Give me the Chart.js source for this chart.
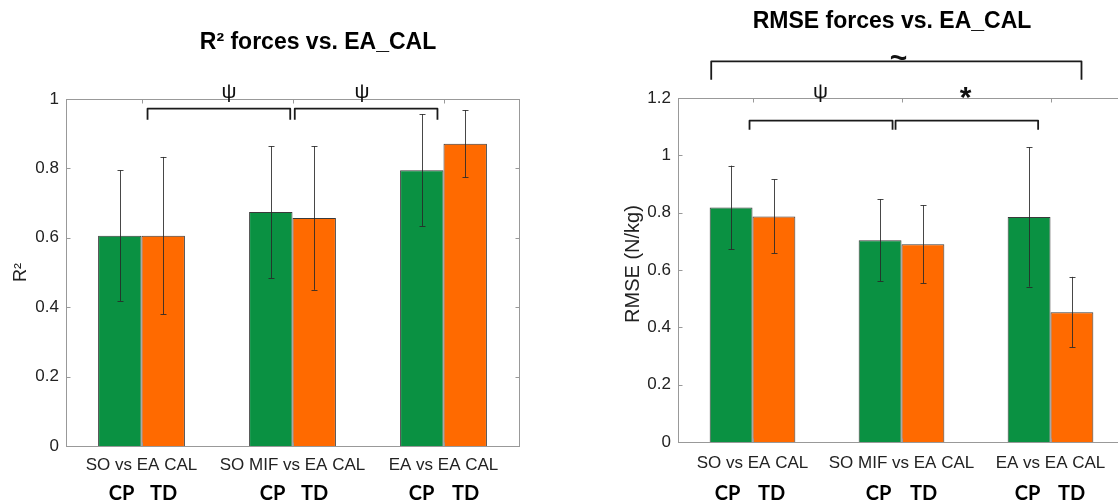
<!DOCTYPE html>
<html>
<head>
<meta charset="utf-8">
<script src="https://cdn.jsdelivr.net/npm/chart.js@4.4.1/dist/chart.umd.min.js"></script>
<style>
html, body { margin: 0; padding: 0; background: #fff; overflow: hidden; }
#wrap { position: relative; width: 1118px; height: 502px; overflow: hidden; }
#c1 { position: absolute; left: 0; top: 0; }
#c2 { position: absolute; left: 560px; top: 0; }
</style>
</head>
<body>
<div id="wrap">
  <canvas id="c1" width="560" height="502"></canvas>
  <canvas id="c2" width="600" height="502"></canvas>
</div>
<script>
// Categorias y grupos
var categorias = ['SO vs EA CAL', 'SO MIF vs EA CAL', 'EA vs EA CAL'];
var grupos = ['CP', 'TD'];

// R2 (media y desviacion)
var r2CP = [0.606, 0.674, 0.795];
var r2TD = [0.606, 0.657, 0.871];
var r2CPsd = [0.188, 0.190, 0.161];
var r2TDsd = [0.227, 0.207, 0.097];

// RMSE (N/kg)
var rmseCP = [0.818, 0.704, 0.785];
var rmseTD = [0.787, 0.690, 0.453];
var rmseCPsd = [0.146, 0.143, 0.243];
var rmseTDsd = [0.129, 0.136, 0.123];

// Ejes Y
var r2Max = 1, rmseMax = 1.2, pasoY = 0.2;

var verde = 'rgb(10,145,66)';
var naranja = 'rgb(255,106,0)';
var fuente = '"Liberation Sans", Arial, sans-serif';

// Plugin: caja, marcas, barras de error, corchetes y textos
var extras = {
  id: 'extras',
  afterDatasetsDraw: function (chart) {
    var o = chart.options.plugins.extras;
    var ctx = chart.ctx, a = chart.chartArea;
    var x = chart.scales.x, y = chart.scales.y;
    ctx.save();

    // barras de error
    ctx.strokeStyle = 'rgba(40,40,40,0.85)';
    ctx.lineWidth = 1;
    chart.data.datasets.forEach(function (ds, di) {
      var meta = chart.getDatasetMeta(di);
      meta.data.forEach(function (bar, i) {
        var v = ds.data[i], e = o.errores[di][i];
        var y1 = y.getPixelForValue(v + e), y2 = y.getPixelForValue(v - e);
        var bx = Math.round(bar.x) + 0.5;
        ctx.beginPath();
        ctx.moveTo(bx, y1); ctx.lineTo(bx, y2);
        ctx.moveTo(bx - 3, Math.round(y1) + 0.5); ctx.lineTo(bx + 3, Math.round(y1) + 0.5);
        ctx.moveTo(bx - 3, Math.round(y2) + 0.5); ctx.lineTo(bx + 3, Math.round(y2) + 0.5);
        ctx.stroke();
      });
    });

    // caja y marcas hacia dentro
    ctx.strokeStyle = '#999';
    ctx.lineWidth = 1;
    var L = Math.round(a.left) + 0.5, R = Math.round(a.right) + 0.5;
    var T = Math.round(a.top) + 0.5, B = Math.round(a.bottom) + 0.5;
    ctx.strokeRect(L, T, R - L, B - T);
    ctx.beginPath();
    y.ticks.forEach(function (t) {
      var py = Math.round(y.getPixelForValue(t.value)) + 0.5;
      ctx.moveTo(L, py); ctx.lineTo(L + 4, py);
      ctx.moveTo(R, py); ctx.lineTo(R - 4, py);
    });
    categorias.forEach(function (c, i) {
      var px = Math.round(x.getPixelForValue(i)) + 0.5;
      ctx.moveTo(px, T); ctx.lineTo(px, T + 4);
      ctx.moveTo(px, B); ctx.lineTo(px, B - 4);
    });
    ctx.stroke();

    // corchetes de significacion
    ctx.strokeStyle = '#1a1a1a';
    ctx.lineWidth = 1.8;
    ctx.lineJoin = 'round';
    ctx.fillStyle = '#111';
    ctx.textAlign = 'center';
    ctx.textBaseline = 'middle';
    o.corchetes.forEach(function (c) {
      var x1 = x.getPixelForValue(c.x1), x2 = x.getPixelForValue(c.x2);
      var yt = y.getPixelForValue(c.yTop), yb = y.getPixelForValue(c.yBot);
      ctx.beginPath();
      ctx.moveTo(x1, yb); ctx.lineTo(x1, yt); ctx.lineTo(x2, yt); ctx.lineTo(x2, yb);
      ctx.stroke();
    });
    o.simbolos.forEach(function (s) {
      ctx.font = s.font;
      ctx.fillText(s.txt, x.getPixelForValue(s.x), y.getPixelForValue(s.y));
    });

    // titulo
    ctx.font = 'bold 23px ' + fuente;
    ctx.fillStyle = '#000';
    ctx.fillText(o.titulo, o.tituloX, o.tituloY);

    // titulo eje Y
    ctx.save();
    ctx.translate(o.ejeX, (a.top + a.bottom) / 2 - o.ejeDy);
    ctx.rotate(-Math.PI / 2);
    ctx.font = o.ejeFont + 'px ' + fuente;
    ctx.fillStyle = '#222';
    ctx.fillText(o.ejeY, 0, 0);
    ctx.restore();

    // etiquetas CP / TD
    ctx.font = 'bold 20px Lato, "Open Sans", sans-serif';
    ctx.fillStyle = '#000';
    categorias.forEach(function (c, i) {
      var px = x.getPixelForValue(i);
      ctx.fillText(grupos[0], px + o.dxCP[i], 494);
      ctx.fillText(grupos[1], px + o.dxTD[i], 494);
    });
    ctx.restore();
  }
};

function crearGrafico(id, serieCP, serieTD, yMax, ext, pad, anchoY, altoX, padX) {
  return new Chart(document.getElementById(id).getContext('2d'), {
    type: 'bar',
    data: {
      labels: categorias,
      datasets: [
        { label: grupos[0], data: serieCP, backgroundColor: verde, borderColor: '#3a3a3a', borderWidth: 1 },
        { label: grupos[1], data: serieTD, backgroundColor: naranja, borderColor: '#3a3a3a', borderWidth: 1 }
      ]
    },
    options: {
      responsive: false,
      animation: false,
      events: [],
      layout: { padding: pad },
      categoryPercentage: 0.575,
      barPercentage: 1,
      scales: {
        x: {
          grid: { display: false, drawTicks: false },
          border: { display: false },
          ticks: { color: '#222', font: { family: fuente, size: 17 }, padding: padX, maxRotation: 0 },
          afterFit: function (s) { s.height = altoX; }
        },
        y: {
          min: 0, max: yMax,
          grid: { display: false, drawTicks: false },
          border: { display: false },
          ticks: {
            stepSize: pasoY, color: '#222', font: { family: fuente, size: 17 }, padding: 7,
            callback: function (v) { return String(+v.toFixed(1)); }
          },
          afterFit: function (s) { s.width = anchoY; }
        }
      },
      plugins: { legend: { display: false }, tooltip: { enabled: false }, extras: ext }
    },
    plugins: [extras]
  });
}

var g1 = crearGrafico('c1', r2CP, r2TD, r2Max, {
  errores: [r2CPsd, r2TDsd],
  corchetes: [
    { x1: 0.04, x2: 0.985, yTop: 0.972, yBot: 0.94 },
    { x1: 1.015, x2: 1.96, yTop: 0.972, yBot: 0.94 }
  ],
  simbolos: [
    { txt: 'ψ', x: 0.58, y: 1.02, font: '21px ' + fuente },
    { txt: 'ψ', x: 1.46, y: 1.02, font: '21px ' + fuente }
  ],
  titulo: 'R² forces vs. EA_CAL', tituloX: 318, tituloY: 43,
  ejeY: 'R²', ejeX: 21, ejeDy: 0, ejeFont: 18,
  dxCP: [-20, -20, -22], dxTD: [22, 22, 22]
}, { top: 99, right: 41, left: 0, bottom: 0 }, 66, 56, 9);

var g2 = crearGrafico('c2', rmseCP, rmseTD, rmseMax, {
  errores: [rmseCPsd, rmseTDsd],
  corchetes: [
    { x1: -0.277, x2: 2.208, yTop: 1.328, yBot: 1.264 },
    { x1: -0.02, x2: 0.94, yTop: 1.121, yBot: 1.089 },
    { x1: 0.96, x2: 1.917, yTop: 1.121, yBot: 1.089 }
  ],
  simbolos: [
    { txt: '~', x: 0.98, y: 1.335, font: 'bold 30px ' + fuente },
    { txt: 'ψ', x: 0.456, y: 1.22, font: '21px ' + fuente },
    { txt: '*', x: 1.43, y: 1.198, font: 'bold 30px ' + fuente }
  ],
  titulo: 'RMSE forces vs. EA_CAL', tituloX: 332, tituloY: 22,
  ejeY: 'RMSE (N/kg)', ejeX: 73, ejeDy: 6, ejeFont: 20,
  dxCP: [-25, -23, -23], dxTD: [19, 22, 21]
}, { top: 98, right: 35, left: 0, bottom: 0 }, 118, 60, 11);
</script>
</body>
</html>
